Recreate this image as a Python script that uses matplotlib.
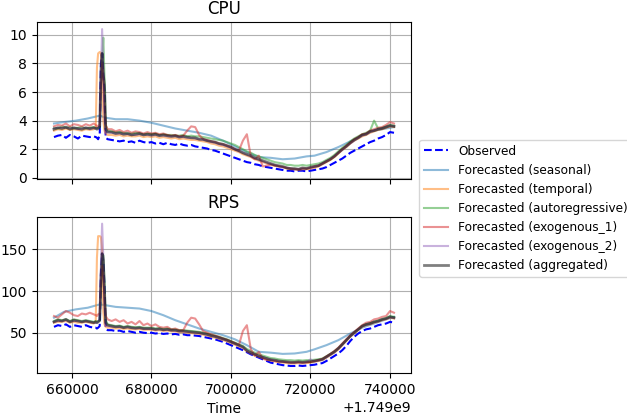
import numpy as np
import matplotlib
matplotlib.use('Agg')
import matplotlib.pyplot as plt
from matplotlib.ticker import MultipleLocator

# time stamps (seconds) are base + offset
base_time = 1.749e9
t_offset = [655500, 656500, 657500, 658500, 659500, 660500, 661500, 662500, 663500, 664500,
            665500, 666000, 666300, 666600, 667000, 667300, 667600, 667900, 668200, 668500,
            669000] + list(range(670000, 741001, 1000))

seasonal_offset = [655500, 658000, 661000, 664000, 667000, 668500, 671000, 674000, 677000, 680000,
                   683000, 686000, 689000, 692000, 695000, 698000, 701000, 704000, 707000, 710000,
                   713000, 716000, 719000, 721000, 724000, 727000, 730000, 733000, 736000, 739000, 741000]

# ---- CPU ----
cpu_observed = [2.85, 2.95, 3.0, 2.8, 3.0, 2.9, 2.75, 2.95, 2.9, 2.85,
                2.9, 2.85, 2.8, 2.7, 3.0, 8.0, 8.7, 7.2, 6.0, 2.8,
                2.7, 2.65, 2.6, 2.55, 2.6, 2.5, 2.55, 2.45, 2.6, 2.5,
                2.45, 2.5, 2.4, 2.45, 2.35, 2.45, 2.35, 2.3, 2.4, 2.3,
                2.25, 2.3, 2.2, 2.15, 2.1, 2.05, 1.95, 1.9, 1.8, 1.7,
                1.6, 1.5, 1.4, 1.3, 1.2, 1.1, 1.05, 0.95, 0.9, 0.8,
                0.75, 0.7, 0.65, 0.6, 0.55, 0.5, 0.5, 0.45, 0.5, 0.5,
                0.45, 0.5, 0.55, 0.6, 0.65, 0.75, 0.9, 1.05, 1.2, 1.35,
                1.55, 1.75, 1.9, 2.05, 2.2, 2.35, 2.5, 2.6, 2.75, 2.85,
                3.0, 3.2, 3.15]
cpu_seasonal = [3.8, 3.9, 4.0, 4.15, 4.35, 4.2, 4.1, 4.1, 4.0, 3.85,
                3.65, 3.45, 3.3, 3.15, 2.95, 2.6, 2.2, 1.8, 1.45, 1.4,
                1.3, 1.35, 1.5, 1.55, 1.8, 2.15, 2.55, 3.0, 3.3, 3.45, 3.55]
cpu_temporal = [3.3, 3.4, 3.35, 3.45, 3.35, 3.4, 3.35, 3.3, 3.4, 3.35,
                3.4, 3.5, 7.7, 8.7, 8.8, 8.7, 7.5, 4.0, 3.3, 3.1,
                3.0, 3.0, 2.95, 3.0, 2.9, 2.95, 2.9, 2.9, 2.95, 2.85,
                2.9, 2.85, 2.9, 2.8, 2.85, 2.8, 2.75, 2.8, 2.7, 2.75,
                2.7, 2.65, 2.65, 2.6, 2.55, 2.5, 2.4, 2.35, 2.25, 2.2,
                2.1, 2.0, 1.9, 1.8, 1.65, 1.55, 1.45, 1.3, 1.2, 1.1,
                1.0, 0.9, 0.85, 0.8, 0.75, 0.65, 0.6, 0.6, 0.55, 0.6,
                0.6, 0.65, 0.7, 0.8, 0.95, 1.1, 1.25, 1.45, 1.7, 1.95,
                2.15, 2.4, 2.6, 2.75, 2.9, 3.0, 3.15, 3.25, 3.35, 3.4,
                3.5, 3.6, 3.55]
cpu_autoregressive = [3.5, 3.45, 3.6, 3.5, 3.55, 3.45, 3.5, 3.55, 3.45, 3.5,
                      3.55, 3.5, 3.45, 3.5, 3.5, 6.0, 8.0, 9.8, 7.0, 3.7,
                      3.3, 3.25, 3.2, 3.2, 3.15, 3.1, 3.1, 3.15, 3.1, 3.05,
                      3.1, 3.05, 3.1, 3.0, 3.05, 3.0, 3.0, 2.95, 2.95, 3.0,
                      2.9, 2.95, 2.9, 2.9, 2.85, 2.8, 2.75, 2.7, 2.65, 2.6,
                      2.5, 2.4, 2.3, 2.15, 2.0, 1.85, 1.75, 1.6, 1.5, 1.4,
                      1.3, 1.2, 1.1, 1.05, 1.0, 0.9, 0.9, 0.85, 0.85, 0.9,
                      0.85, 0.9, 0.95, 1.0, 1.1, 1.25, 1.4, 1.6, 1.85, 2.1,
                      2.3, 2.55, 2.75, 2.9, 3.05, 3.15, 3.3, 4.0, 3.45, 3.5,
                      3.6, 3.7, 3.65]
cpu_exogenous_1 = [3.6, 3.7, 3.65, 3.8, 3.6, 3.75, 3.7, 3.6, 3.75, 3.65,
                   3.8, 3.7, 3.6, 3.65, 3.7, 6.5, 8.0, 7.0, 5.0, 3.7,
                   3.4, 3.4, 3.25, 3.35, 3.2, 3.3, 3.15, 3.25, 3.2, 3.1,
                   3.2, 3.1, 3.15, 3.05, 3.1, 3.0, 2.95, 3.0, 2.9, 2.95,
                   3.3, 3.6, 3.55, 3.0, 2.7, 2.65, 2.55, 2.5, 2.4, 2.35,
                   2.25, 2.15, 2.0, 1.9, 2.6, 3.05, 1.5, 1.3, 1.55, 0.8,
                   0.85, 0.95, 0.85, 0.8, 0.75, 0.7, 0.65, 0.6, 0.6, 0.65,
                   0.65, 0.7, 0.8, 0.85, 1.0, 1.15, 1.3, 1.5, 1.75, 2.0,
                   2.25, 2.45, 2.7, 2.85, 3.05, 3.1, 3.3, 3.4, 3.5, 3.55,
                   3.7, 3.9, 3.8]
cpu_exogenous_2 = [3.45, 3.5, 3.5, 3.5, 3.45, 3.5, 3.4, 3.45, 3.5, 3.4,
                   3.5, 3.45, 3.45, 3.5, 3.6, 7.0, 10.4, 7.5, 4.0, 3.3,
                   3.2, 3.15, 3.1, 3.1, 3.05, 3.05, 3.0, 3.0, 3.05, 3.0,
                   3.0, 2.95, 3.0, 2.95, 2.95, 2.9, 2.9, 2.9, 2.85, 2.85,
                   2.8, 2.8, 2.75, 2.7, 2.65, 2.6, 2.5, 2.45, 2.35, 2.3,
                   2.2, 2.1, 2.0, 1.85, 1.75, 1.6, 1.5, 1.35, 1.25, 1.15,
                   1.05, 0.95, 0.9, 0.8, 0.75, 0.7, 0.65, 0.6, 0.6, 0.65,
                   0.65, 0.7, 0.75, 0.85, 1.0, 1.15, 1.3, 1.5, 1.75, 1.95,
                   2.2, 2.4, 2.6, 2.8, 2.95, 3.05, 3.2, 3.3, 3.4, 3.45,
                   3.55, 3.65, 3.6]
cpu_aggregated = [3.4, 3.5, 3.45, 3.55, 3.4, 3.5, 3.45, 3.4, 3.5, 3.45,
                  3.5, 3.45, 3.4, 3.45, 3.6, 7.5, 8.7, 7.2, 6.5, 3.4,
                  3.2, 3.2, 3.1, 3.15, 3.05, 3.1, 3.0, 3.05, 3.1, 3.0,
                  3.05, 3.0, 3.05, 2.95, 3.0, 2.95, 2.9, 2.95, 2.85, 2.9,
                  2.85, 2.8, 2.8, 2.7, 2.7, 2.6, 2.55, 2.5, 2.4, 2.35,
                  2.25, 2.15, 2.0, 1.9, 1.75, 1.65, 1.55, 1.4, 1.3, 1.2,
                  1.1, 1.0, 0.9, 0.85, 0.8, 0.7, 0.65, 0.65, 0.6, 0.7,
                  0.65, 0.75, 0.8, 0.85, 1.0, 1.15, 1.3, 1.5, 1.75, 2.0,
                  2.2, 2.45, 2.65, 2.8, 3.0, 3.05, 3.25, 3.3, 3.4, 3.45,
                  3.55, 3.65, 3.6]

# ---- RPS ----
rps_observed = [57, 59, 58, 60, 57, 59, 58, 57, 59, 57,
                56, 56, 55, 56, 58, 120, 145, 135, 105, 55,
                53, 53, 52, 52.5, 51, 52, 51, 50, 51, 50,
                49.5, 50, 49, 49.5, 48.5, 49, 48, 48.5, 47.5, 48,
                47, 47, 46.5, 46, 45, 44, 43, 42, 40.5, 39,
                37, 35, 33, 31, 29, 26.5, 24, 22, 20, 18,
                16, 14, 13, 12, 11, 10.5, 10, 10, 10.5, 10,
                10.5, 11, 11.5, 12.5, 13.5, 16, 19, 22, 25, 29,
                34, 40, 45, 49, 52, 54, 55, 57, 59, 60,
                61, 63, 62]
rps_seasonal = [68, 75, 78, 80, 84, 83, 81, 80, 79, 76,
                71, 65, 60, 55, 51, 47, 42, 35, 27, 26,
                24.5, 25, 27, 30, 35, 41, 49, 56, 61, 66, 69]
rps_temporal = [62, 63, 63, 64, 62, 63, 62, 62, 63, 62,
                61, 64, 140, 166, 166, 165, 150, 75, 60, 57,
                56, 56, 55, 55.5, 54.5, 55, 54, 54, 54.5, 53.5,
                53.5, 53.5, 52.5, 53, 52, 52.5, 51.5, 51.5, 50.5, 50.5,
                50, 49.5, 49, 48.5, 47.5, 46.5, 45, 44, 42.5, 41,
                39.5, 37.5, 35.5, 33.5, 31.5, 27.5, 25, 23, 21, 19.5,
                18, 16.5, 15.5, 14.5, 14, 13.5, 13, 13, 13.5, 13,
                13.5, 14, 15, 16, 17, 20, 23, 26, 30, 35,
                40, 45, 49, 53, 57, 59, 60, 62, 63, 65,
                66, 68, 67]
rps_autoregressive = [64, 66, 65, 66, 64, 66, 65, 64, 65, 64,
                      63, 64, 63, 64, 64, 100, 130, 143, 110, 65,
                      60, 59, 58, 58.5, 57, 58, 57, 56.5, 57, 56,
                      56, 56, 55, 55.5, 54.5, 55, 54, 54, 53, 53,
                      52.5, 52, 51.5, 51, 50, 49, 47.5, 46.5, 45, 43.5,
                      42, 40, 38, 36, 34, 30.5, 28, 26, 24, 22.5,
                      21, 19.5, 19, 18, 17.5, 17, 17, 16.5, 17, 16.5,
                      17, 17, 17.5, 18, 19, 21.5, 24.5, 27.5, 31.5, 36,
                      41, 46, 50, 54, 58, 60, 61.5, 63, 64.5, 66,
                      67.5, 70, 69]
rps_exogenous_1 = [70, 68, 72, 76, 74, 71, 70, 73, 72, 74,
                   72, 71, 70, 72, 73, 110, 130, 120, 90, 70,
                   66, 64, 66, 63, 65, 61, 63, 60, 64, 59,
                   61, 58, 60, 57, 56, 57, 54, 55, 53, 53,
                   62, 68, 67, 60, 52, 50, 48, 46.5, 45, 43,
                   41.5, 39.5, 37.5, 35, 52, 59, 30, 22, 27, 19,
                   17, 17, 16, 15, 15, 14.5, 14, 14, 14.5, 14,
                   14.5, 15, 16, 17, 18.5, 21.5, 24.5, 28, 32, 37,
                   42, 47, 51, 55, 59, 62, 63, 66, 67, 69,
                   70, 76, 74]
rps_exogenous_2 = [63, 64, 64, 65, 63, 64, 64, 63, 64, 63,
                   62, 62, 62, 63, 66, 130, 181, 140, 80, 60,
                   58, 57.5, 57, 57, 56, 56.5, 55.5, 55, 55.5, 54.5,
                   54.5, 54.5, 53.5, 54, 53, 53.5, 52.5, 52.5, 51.5, 51.5,
                   51, 50.5, 50, 49.5, 48.5, 47.5, 46, 45, 43.5, 42,
                   40.5, 38.5, 36.5, 34.5, 32.5, 28.5, 26, 24, 22, 20.5,
                   19, 17.5, 16.5, 15.5, 15, 14.5, 14, 14, 14.5, 14,
                   14.5, 18, 15.5, 16.5, 17.5, 20.5, 23.5, 26.5, 30.5, 35.5,
                   40.5, 45.5, 49.5, 53.5, 57.5, 59.5, 60.5, 62.5, 63.5, 65.5,
                   66.5, 68.5, 67.5]
rps_aggregated = [63, 65, 64, 66, 63, 65, 64, 63, 64, 63,
                  62, 63, 62, 63, 65, 115, 145, 138, 100, 62,
                  59, 58, 57, 57.5, 56, 57, 56, 55.5, 56, 55,
                  55, 55, 54, 54.5, 53.5, 54, 53, 53, 52, 52,
                  51.5, 51, 50.5, 50, 49, 48, 46.5, 45.5, 44, 42.5,
                  41, 39, 37, 35, 33, 28.5, 26, 24, 22, 20.5,
                  19, 17.5, 17, 16, 15.5, 15, 14.5, 14.5, 15, 14.5,
                  15, 15, 16, 17, 18, 21, 24, 27, 31, 36,
                  41, 46, 50, 54, 58, 60, 61, 63, 64, 66,
                  67, 69, 68]

x = base_time + np.array(t_offset, dtype=float)
xs = base_time + np.array(seasonal_offset, dtype=float)

fig, axes = plt.subplots(2, 1, sharex=True, figsize=(6.27, 4.15), dpi=100)
fig.subplots_adjust(left=0.059, right=0.6555, top=0.947, bottom=0.101, hspace=0.243)

panels = [
    ('CPU', cpu_observed, cpu_seasonal, cpu_temporal, cpu_autoregressive,
     cpu_exogenous_1, cpu_exogenous_2, cpu_aggregated),
    ('RPS', rps_observed, rps_seasonal, rps_temporal, rps_autoregressive,
     rps_exogenous_1, rps_exogenous_2, rps_aggregated),
]

for ax, (name, obs, sea, tem, aut, ex1, ex2, agg) in zip(axes, panels):
    ax.plot(x, obs, 'b--', label='Observed')
    ax.plot(xs, sea, color='C0', alpha=0.5, label='Forecasted (seasonal)')
    ax.plot(x, tem, color='C1', alpha=0.5, label='Forecasted (temporal)')
    ax.plot(x, aut, color='C2', alpha=0.5, label='Forecasted (autoregressive)')
    ax.plot(x, ex1, color='C3', alpha=0.5, label='Forecasted (exogenous_1)')
    ax.plot(x, ex2, color='C4', alpha=0.5, label='Forecasted (exogenous_2)')
    ax.plot(x, agg, color='k', alpha=0.5, linewidth=2, label='Forecasted (aggregated)')
    ax.set_title(name)
    ax.grid(True)

axes[0].yaxis.set_major_locator(MultipleLocator(2))
axes[1].set_xlabel('Time')

handles, labels = axes[0].get_legend_handles_labels()
fig.legend(handles, labels, loc='center left', bbox_to_anchor=(0.659, 0.498), fontsize=8.7)

fig.savefig('out.png', dpi=100)
